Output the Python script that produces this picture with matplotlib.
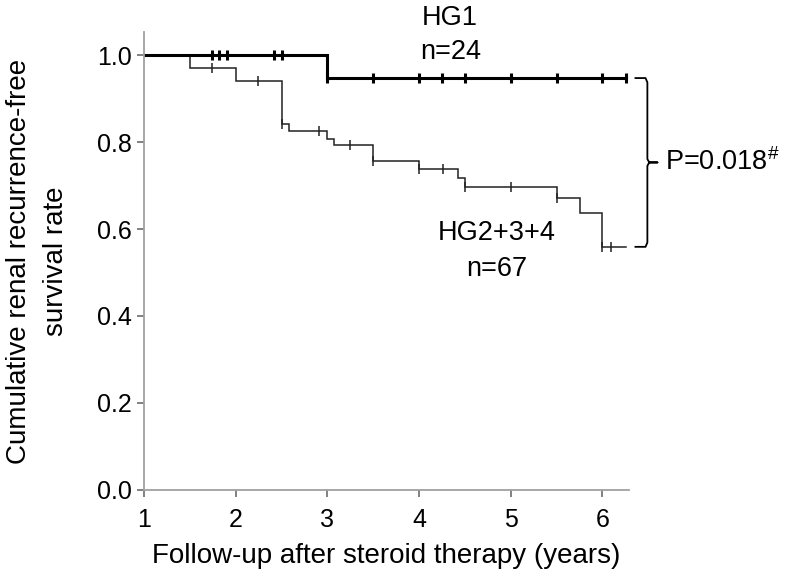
import numpy as np
import matplotlib
matplotlib.use("Agg")
import matplotlib.pyplot as plt

plt.rcParams['font.family'] = ['Liberation Sans', 'DejaVu Sans']
plt.rcParams['mathtext.fontset'] = 'custom'
plt.rcParams['mathtext.rm'] = 'Liberation Sans'

# HG1 group (n=24)
hg1_event_t = [3.0]
hg1_event_s = [0.947]
hg1_end = 6.26
hg1_censor = [1.74, 1.82, 1.91, 2.42, 2.50, 3.0, 3.5, 4.0, 4.25, 4.5, 5.0, 5.5, 6.0, 6.26]

# HG2+3+4 group (n=67)
hg2_event_t = [1.5, 2.0, 2.5, 2.58, 3.0, 3.07, 3.5, 4.0, 4.42, 4.5, 5.5, 5.76, 6.0]
hg2_event_s = [0.970, 0.940, 0.841, 0.826, 0.808, 0.794, 0.757, 0.737, 0.717, 0.696, 0.671, 0.636, 0.559]
hg2_end = 6.26
hg2_censor = [1.74, 2.24, 2.5, 2.91, 3.25, 3.5, 4.0, 4.26, 4.5, 5.0, 5.5, 6.0, 6.09]

x_ticks = [1, 2, 3, 4, 5, 6]
y_ticks = [0.0, 0.2, 0.4, 0.6, 0.8, 1.0]


def km_curve(ax, ev_t, ev_s, end, cens, lw, color):
    t = np.array([1.0] + ev_t + [end])
    s = np.array([1.0] + ev_s + [ev_s[-1]])
    ax.step(t, s, where='post', color=color, lw=lw, solid_joinstyle='miter')
    idx = np.searchsorted(t, cens, side='right') - 1
    ax.plot(cens, s[idx], ls='none', marker='|', color=color,
            markersize=7, markeredgewidth=lw)


fig = plt.figure(figsize=(7.86, 5.8), dpi=100)
ax = fig.add_axes([0.1832, 0.1552, 0.6171, 0.7897])

km_curve(ax, hg2_event_t, hg2_event_s, hg2_end, hg2_censor, 1.1, '#222222')
km_curve(ax, hg1_event_t, hg1_event_s, hg1_end, hg1_censor, 2.2, 'black')

ax.set_xlim(1, 6.29)
ax.set_ylim(0, 1.053)
ax.set_xticks(x_ticks)
ax.set_yticks(y_ticks)
ax.set_yticklabels(['%.1f' % v for v in y_ticks])
for sp in ['top', 'right']:
    ax.spines[sp].set_visible(False)
for sp in ['left', 'bottom']:
    ax.spines[sp].set_color('#a0a0a0')
    ax.spines[sp].set_linewidth(1.3)
ax.tick_params(axis='both', labelsize=18, color='#777777', length=5, width=1.3)
ax.tick_params(axis='x', pad=8)
ax.tick_params(axis='y', pad=4)

ax.set_xlabel('Follow-up after steroid therapy (years)', fontsize=20)
ax.set_ylabel('Cumulative renal recurrence-free\nsurvival rate', fontsize=20,
              multialignment='center', linespacing=1.55)
ax.xaxis.set_label_coords(0.5, -0.116)
ax.yaxis.set_label_coords(-0.155, 0.5)

# group labels
ax.text(4.34, 1.085, 'HG1', ha='center', va='center', fontsize=19.5, clip_on=False)
ax.text(4.34, 1.008, 'n=24', ha='center', va='center', fontsize=19.5, clip_on=False)
ax.text(4.85, 0.590, 'HG2+3+4', ha='center', va='center', fontsize=19.5)
ax.text(4.85, 0.507, 'n=67', ha='center', va='center', fontsize=19.5)

# brace and p-value
ytop = hg1_event_s[-1]
ybot = hg2_event_s[-1]
ymid = (ytop + ybot) / 2
bx = [6.36, 6.47, 6.49, 6.49, 6.51, 6.60, 6.51, 6.49, 6.49, 6.47, 6.36]
by = [ytop, ytop, ytop - 0.01, ymid + 0.008, ymid, ymid, ymid, ymid - 0.008, ybot + 0.01, ybot, ybot]
ax.plot(bx, by, color='black', lw=1.3, clip_on=False)
ax.text(6.68, ymid, 'P=0.018$^{\\#}$', ha='left', va='center', fontsize=19.5, clip_on=False)

fig.savefig('out.png', dpi=100)
